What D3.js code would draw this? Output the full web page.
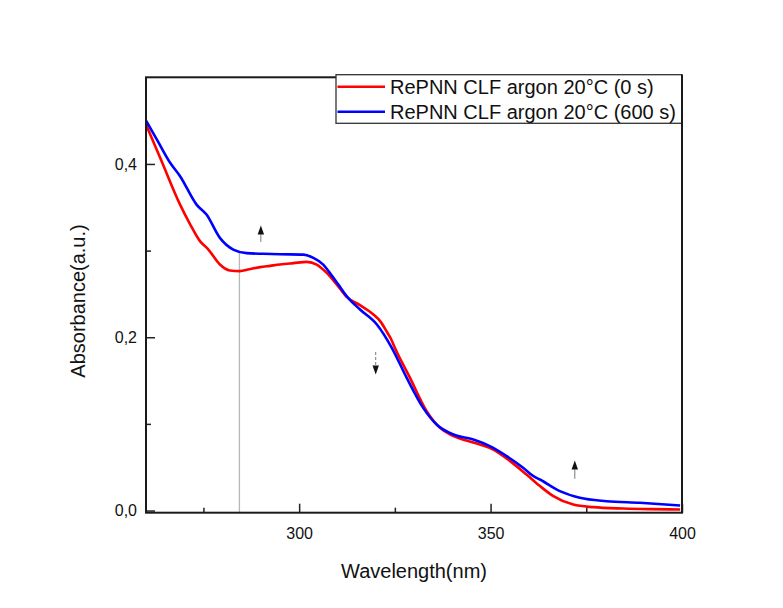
<!DOCTYPE html>
<html>
<head>
<meta charset="utf-8">
<script src="https://cdn.jsdelivr.net/npm/d3@7"></script>
<style>
  html, body { margin: 0; padding: 0; background: #ffffff; }
  svg { display: block; }
  text { font-family: "Liberation Sans", Arial, sans-serif; fill: #111; }
</style>
</head>
<body>
<svg id="chart" width="783" height="608"></svg>
<script>
// ---- Data ----
const seriesNames = ["RePNN CLF argon 20°C (0 s)", "RePNN CLF argon 20°C (600 s)"];
const seriesColors = ["#ff0000", "#0000ff"];

const wavelength0s = [260, 264, 268.9, 271.5, 274.1, 276.3, 279.3, 281.9, 284.5, 287, 289.8, 292.4, 295, 298.5, 302, 304.6, 307.2, 309.8, 312.4, 315.9, 319.4, 321.2, 322.9, 324, 325, 328.9, 333.3, 336.8, 339.5, 342, 347.2, 350.7, 355.1, 359.4, 362.9, 366.4, 371.6, 376.8, 384.7, 392, 399.5];
const absorbance0s = [0.4455, 0.404, 0.3531, 0.3306, 0.3109, 0.3012, 0.2839, 0.2770, 0.2763, 0.2785, 0.2809, 0.2824, 0.2839, 0.2855, 0.2870, 0.2839, 0.2743, 0.2610, 0.2466, 0.2370, 0.2262, 0.2183, 0.2063, 0.1980, 0.1878, 0.1537, 0.1147, 0.0954, 0.0875, 0.0831, 0.0762, 0.0704, 0.0570, 0.0415, 0.0282, 0.0166, 0.0069, 0.0039, 0.0023, 0.0016, 0.0012];

const wavelength600s = [260, 263, 266.3, 268.9, 273.2, 275.8, 279.3, 282.8, 286.3, 290.6, 295, 301.1, 303.7, 306.3, 308, 310.2, 312.4, 315.9, 320.3, 324.2, 328.1, 332.4, 335.9, 340.3, 345.5, 349.8, 354.2, 358.5, 361.2, 362.9, 368.1, 373.3, 380.3, 389, 399.5];
const absorbance600s = [0.4501, 0.4268, 0.4013, 0.3859, 0.3531, 0.3416, 0.3147, 0.3012, 0.2971, 0.2963, 0.2958, 0.2954, 0.2916, 0.2839, 0.2743, 0.2610, 0.2474, 0.2320, 0.2147, 0.1878, 0.1531, 0.1185, 0.0993, 0.0877, 0.0819, 0.0743, 0.0628, 0.0493, 0.0397, 0.0358, 0.0224, 0.0147, 0.0108, 0.0089, 0.0058];

const xMajorTicks = [300, 350, 400];
const xMinorTicks = [275, 325, 375];
const yMajorTicks = [0, 0.2, 0.4];
const yMajorLabels = ["0,0", "0,2", "0,4"];
const yMinorTicks = [0.1, 0.3];

const markerWavelength = 284.4;
const markerTop = 0.298;

const arrowWavelengths = [290, 320, 372];
const arrowFrom = [0.310, 0.183, 0.0366];
const arrowTo = [0.329, 0.157, 0.0577];

// ---- Layout ----
const svg = d3.select("#chart");
const plotLeft = 146, plotRight = 682, plotTop = 77.3, plotBottom = 512.7;

const x = d3.scaleLinear().domain([260, 400]).range([plotLeft, plotRight]);
const y = d3.scaleLinear().domain([-0.0025, 0.5]).range([plotBottom, plotTop]);

svg.append("rect").attr("width", 783).attr("height", 608).attr("fill", "#ffffff");

// marker vertical line
svg.append("line")
  .attr("x1", x(markerWavelength)).attr("x2", x(markerWavelength))
  .attr("y1", y(-0.0025)).attr("y2", y(markerTop))
  .attr("stroke", "#b8b8b8").attr("stroke-width", 1.3);

// curves
const series = [
  { w: wavelength0s, a: absorbance0s },
  { w: wavelength600s, a: absorbance600s }
];
const line = d3.line().x(d => x(d[0])).y(d => y(d[1])).curve(d3.curveMonotoneX);
series.forEach((s, i) => {
  svg.append("path")
    .datum(s.w.map((w, j) => [w, s.a[j]]))
    .attr("d", line)
    .attr("fill", "none")
    .attr("stroke", seriesColors[i])
    .attr("stroke-width", 2.6)
    .attr("stroke-linejoin", "round");
});

// arrows
arrowWavelengths.forEach((w, i) => {
  const ax = x(w);
  const y0 = y(arrowFrom[i]);
  const y1 = y(arrowTo[i]);
  const dir = y1 < y0 ? -1 : 1; // -1 up
  const headLen = 9, halfW = 3.2;
  const yBase = y1 - dir * headLen;
  svg.append("line")
    .attr("x1", ax).attr("x2", ax).attr("y1", y0).attr("y2", yBase)
    .attr("stroke", "#777").attr("stroke-width", 1)
    .attr("stroke-dasharray", i === 1 ? "3,2" : null);
  svg.append("path")
    .attr("d", `M${ax},${y1} L${ax - halfW},${yBase} L${ax + halfW},${yBase} Z`)
    .attr("fill", "#111");
});

// axes (ticks inward)
const gx = svg.append("g").attr("transform", `translate(0,${plotBottom})`)
  .call(d3.axisBottom(x).tickValues(xMajorTicks).tickSize(-9).tickPadding(15).tickFormat(d3.format("d")));
const gxm = svg.append("g").attr("transform", `translate(0,${plotBottom})`)
  .call(d3.axisBottom(x).tickValues(xMinorTicks).tickSize(-5).tickFormat(""));
const gy = svg.append("g").attr("transform", `translate(${plotLeft},0)`)
  .call(d3.axisLeft(y).tickValues(yMajorTicks).tickSize(-9).tickPadding(9).tickFormat((d, i) => yMajorLabels[i]));
const gym = svg.append("g").attr("transform", `translate(${plotLeft},0)`)
  .call(d3.axisLeft(y).tickValues(yMinorTicks).tickSize(-5).tickFormat(""));

[gx, gxm, gy, gym].forEach(g => {
  g.select(".domain").remove();
  g.selectAll(".tick line").attr("stroke", "#222").attr("stroke-width", 1.5);
  g.selectAll(".tick text")
    .attr("font-family", '"Liberation Sans", Arial, sans-serif')
    .attr("font-size", 16).attr("fill", "#111");
});

// frame
svg.append("rect")
  .attr("x", plotLeft).attr("y", plotTop)
  .attr("width", plotRight - plotLeft).attr("height", plotBottom - plotTop)
  .attr("fill", "none").attr("stroke", "#1a1a1a").attr("stroke-width", 2);

// axis titles
svg.append("text")
  .attr("x", (plotLeft + plotRight) / 2).attr("y", 578)
  .attr("text-anchor", "middle").attr("font-size", 20)
  .text("Wavelength(nm)");
svg.append("text")
  .attr("transform", "translate(85,301) rotate(-90)")
  .attr("text-anchor", "middle").attr("font-size", 20)
  .text("Absorbance(a.u.)");

// legend
const lg = svg.append("g");
lg.append("rect")
  .attr("x", 336).attr("y", 74.7).attr("width", plotRight - 336).attr("height", 48.6)
  .attr("fill", "#ffffff").attr("stroke", "#333").attr("stroke-width", 1.3);
seriesNames.forEach((name, i) => {
  const ly = 86.7 + i * 25;
  lg.append("line")
    .attr("x1", 337.5).attr("x2", 385).attr("y1", ly).attr("y2", ly)
    .attr("stroke", seriesColors[i]).attr("stroke-width", 2.6);
  lg.append("text")
    .attr("x", 390).attr("y", ly + 7)
    .attr("font-size", 20)
    .text(name);
});
// right frame edge redrawn over the legend
svg.append("line")
  .attr("x1", plotRight).attr("x2", plotRight).attr("y1", 74.7).attr("y2", plotBottom)
  .attr("stroke", "#1a1a1a").attr("stroke-width", 2);
</script>
</body>
</html>
